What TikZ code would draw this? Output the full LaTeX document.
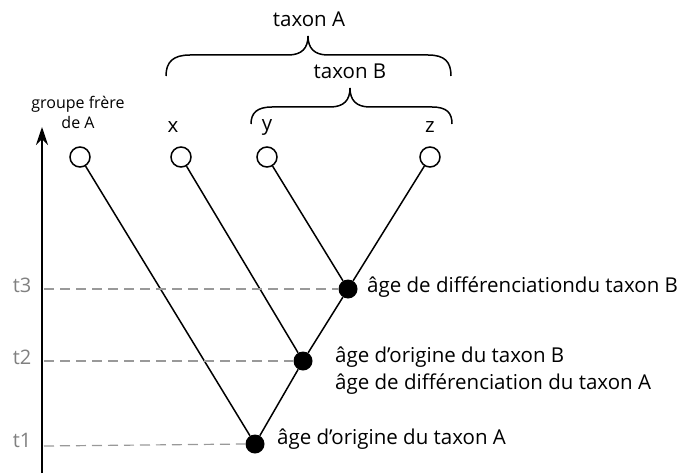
\documentclass[tikz,border=0pt]{standalone}
\usepackage{fontspec}
\setmainfont{Open Sans}
\usetikzlibrary{arrows.meta}
\begin{document}
\begin{tikzpicture}[x=1pt,y=-1pt,
  leaf/.style={circle,draw,line width=1.5pt,fill=white,minimum size=20pt,inner sep=0pt},
  knot/.style={circle,fill=black,minimum size=19pt,inner sep=0pt},
  branch/.style={line width=1.5pt},
  guide/.style={gray!80,line width=1.2pt,dash pattern=on 10pt off 6pt},
  tlab/.style={text=gray,font=\fontsize{20}{24}\selectfont},
  lab/.style={font=\fontsize{20.5}{25}\selectfont,anchor=west,inner sep=0pt},
  big/.style={font=\fontsize{20.5}{25}\selectfont},
  brace/.style={line width=1.5pt}]
\useasboundingbox (0,0) rectangle (684,473);
% axis
\coordinate (ax0) at (42,473);
\coordinate (ax1) at (42,127);
\draw[line width=1.6pt,-{Stealth[length=18pt,width=12pt]}] (ax0) -- (ax1);
% nodes
\node[leaf] (g) at (80,157) {};
\node[leaf] (x) at (181,157) {};
\node[leaf] (y) at (267,157) {};
\node[leaf] (z) at (430,157) {};
\node[knot] (n3) at (348,289) {};
\node[knot] (n2) at (303,361) {};
\node[knot] (n1) at (255,444) {};
% branches
\draw[branch] (n1) -- (g);
\draw[branch] (n1) -- (n2);
\draw[branch] (n2) -- (x);
\draw[branch] (n2) -- (n3);
\draw[branch] (n3) -- (y);
\draw[branch] (n3) -- (z);
% time guides
\coordinate (a3) at (44,289);
\coordinate (a2) at (44,361);
\coordinate (a1) at (44,446);
\draw[guide] (a3) -- (n3.west);
\draw[guide] (a2) -- (n2.west);
\draw[guide] (a1) -- (n1.west);
\node[tlab] (t3) at (22,285) {t3};
\node[tlab] (t2) at (22,357) {t2};
\node[tlab] (t1) at (22,440) {t1};
% leaf labels
\node[font=\fontsize{16}{20}\selectfont,align=center] (gl) at (78,112) {groupe frère\\de A};
\node[big] (xl) at (173,127) {x};
\node[big] (yl) at (267,127) {y};
\node[big] (zl) at (430,127) {z};
% node labels
\node[lab] (l3) at (367,287) {âge de différenciationdu taxon B};
\node[lab] (l2) at (335,357) {âge d’origine du taxon B};
\node[lab] (l2b) at (335,384) {âge de différenciation du taxon A};
\node[lab] (l1) at (277,439) {âge d’origine du taxon A};
% braces
\draw[brace] (166,76) .. controls (166,62) and (173,55) .. (190,55) -- (288,55)
  .. controls (302,55) and (308,48) .. (308,36)
  .. controls (308,48) and (314,55) .. (328,55) -- (428,55)
  .. controls (445,55) and (451,62) .. (451,76);
\draw[brace] (251,124) .. controls (251,113) and (257,107) .. (272,107) -- (330,107)
  .. controls (344,107) and (350,100) .. (350,88)
  .. controls (350,100) and (356,107) .. (370,107) -- (432,107)
  .. controls (447,107) and (452,113) .. (452,124);
\node[big] (tA) at (309,19) {taxon A};
\node[big] (tB) at (350,71) {taxon B};
\end{tikzpicture}
\end{document}
